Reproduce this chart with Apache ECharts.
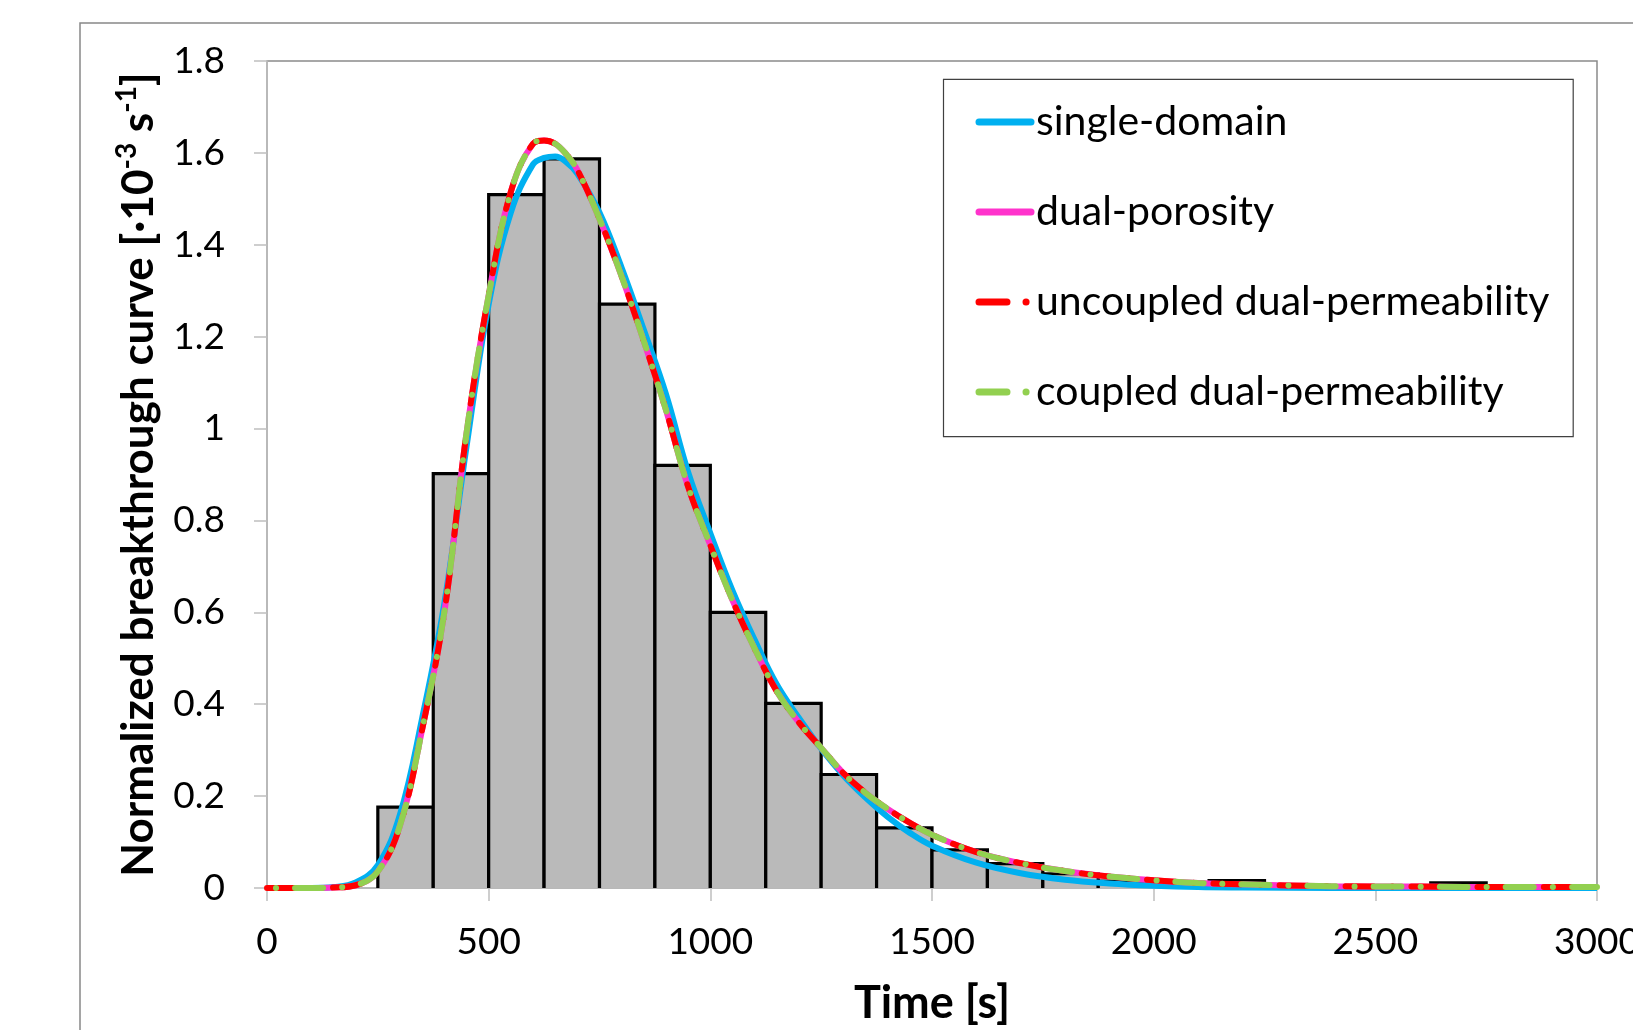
<!DOCTYPE html>
<html><head><meta charset="utf-8">
<script src="https://cdn.jsdelivr.net/npm/echarts@6/dist/echarts.min.js"></script>
<style>html,body{margin:0;padding:0;background:#fff}#c{width:1633px;height:1030px}</style>
</head><body><div id="c"></div>
<script>
// Histogram bins (s) and heights
const binStarts = [250,375,500,625,750,875,1000,1125,1250,1375,1500,1625,1750,1875,2000,2125,2250,2375,2500,2625,2750,2875];
const binWidth = 125;
const binValues = [0.176,0.902,1.509,1.587,1.271,0.920,0.600,0.402,0.247,0.131,0.083,0.053,0.031,0.015,0.010,0.016,0.004,0.002,0.002,0.011,0.002,0.001];

// Curve sample times (s)
const times = [0,100,150,200,250,300,350,400,450,500,550,600,625,650,675,700,750,800,850,900,950,1000,1050,1100,1150,1200,1250,1300,1350,1400,1450,1500,1600,1700,1800,1900,2000,2100,2200,2400,2600,2800,3000];
const singleDomain = [0,0,0.002,0.012,0.05,0.16,0.37,0.62,0.96,1.27,1.47,1.575,1.589,1.592,1.58,1.555,1.47,1.35,1.215,1.075,0.905,0.772,0.647,0.54,0.443,0.37,0.303,0.245,0.197,0.155,0.12,0.092,0.055,0.032,0.018,0.01,0.005,0.002,0.001,0,0,0,0];
const dualPorosity = [0,0,0.001,0.006,0.036,0.136,0.345,0.60,0.99,1.29,1.515,1.62,1.627,1.62,1.597,1.563,1.456,1.331,1.19,1.04,0.873,0.746,0.626,0.521,0.428,0.36,0.305,0.25,0.207,0.172,0.142,0.116,0.078,0.054,0.037,0.025,0.017,0.011,0.008,0.004,0.003,0.002,0.002];
const uncoupledDualPerm = [0,0,0.001,0.006,0.036,0.136,0.345,0.60,0.99,1.29,1.515,1.62,1.627,1.62,1.597,1.563,1.456,1.331,1.19,1.04,0.873,0.746,0.626,0.521,0.428,0.36,0.305,0.25,0.207,0.172,0.142,0.116,0.078,0.054,0.037,0.025,0.017,0.011,0.008,0.004,0.003,0.002,0.002];
const coupledDualPerm = [0,0,0.001,0.006,0.036,0.136,0.345,0.60,0.99,1.29,1.515,1.62,1.627,1.62,1.597,1.563,1.456,1.331,1.19,1.04,0.873,0.746,0.626,0.521,0.428,0.36,0.305,0.25,0.207,0.172,0.142,0.116,0.078,0.054,0.037,0.025,0.017,0.011,0.008,0.004,0.003,0.002,0.002];

const seriesNames = ['single-domain','dual-porosity','uncoupled dual-permeability','coupled dual-permeability'];
const xTicks = {min:0, max:3000, interval:500};
const yTicks = {min:0, max:1.8, interval:0.2};

const FONT = 'Lato';
const pair = arr => times.map((t,i)=>[t, arr[i]]);
const dash = [28,19,0.1,19];
const colors = ['#00B0F0','#FF33CC','#FF0000','#92D050'];
const types = ['solid','solid',dash,dash];

const chart = echarts.init(document.getElementById('c'));
chart.setOption({
  backgroundColor:'#fff',
  animation:false,
  grid:{left:267, top:61, right:36, bottom:142, show:true, borderColor:'#8a8a8a', borderWidth:1.5,
    backgroundColor:'transparent', containLabel:false, outerBoundsMode:'none'},
  xAxis:{type:'value', min:xTicks.min, max:xTicks.max, interval:xTicks.interval,
    name:'Time [s]', nameLocation:'middle', nameGap:93,
    nameTextStyle:{fontFamily:FONT, fontWeight:'bold', fontSize:45, color:'#000'},
    axisLine:{lineStyle:{color:'#bfbfbf', width:1.5}},
    axisTick:{length:13, lineStyle:{color:'#bfbfbf', width:1.5}},
    axisLabel:{fontFamily:FONT, fontSize:37, color:'#000', margin:36, formatter:v=>String(v), hideOverlap:false},
    splitLine:{show:false}},
  yAxis:{type:'value', min:yTicks.min, max:yTicks.max, interval:yTicks.interval,
    name:'{b|Normalized breakthrough curve [·10}{s|-3}{b| s}{s|-1}{b|]}',
    nameLocation:'middle', nameGap:102, nameRotate:90,
    nameTextStyle:{rich:{
      b:{fontFamily:FONT, fontWeight:'bold', fontSize:44, color:'#000', lineHeight:52},
      s:{fontFamily:FONT, fontWeight:'bold', fontSize:28, color:'#000', lineHeight:28, verticalAlign:'top'}}},
    axisLine:{show:true, lineStyle:{color:'#bfbfbf', width:1.5}},
    axisTick:{show:true, length:13, lineStyle:{color:'#bfbfbf', width:1.5}},
    axisLabel:{fontFamily:FONT, fontSize:37, color:'#000', margin:42},
    splitLine:{show:false}},
  legend:{orient:'vertical', left:943.5, top:78.5, padding:[23,0,0,32], itemGap:49,
    itemWidth:52, itemHeight:14,
    itemStyle:{opacity:0},
    data:seriesNames.map((n,i)=>({name:n,
      lineStyle:{color:colors[i], width:7, type:types[i], cap:'round', dashOffset:0, opacity:1}})),
    textStyle:{fontFamily:FONT, fontSize:41, color:'#000', lineHeight:40}},
  graphic:[
    {type:'rect', z:-10, shape:{x:80, y:23, width:1700, height:1100}, style:{fill:'none', stroke:'#888', lineWidth:1.5}},
    {type:'rect', z:10, shape:{x:943.5, y:79.3, width:629.7, height:357.4}, style:{fill:'none', stroke:'#404040', lineWidth:1.2}}
  ],
  series:[
    {type:'custom', name:'histogram', z:1,
      data:binStarts.map((s,i)=>[s, s+binWidth, binValues[i]]),
      encode:{x:[0,1], y:2},
      renderItem:function(params, api){
        const p0 = api.coord([api.value(0), api.value(2)]);
        const p1 = api.coord([api.value(1), 0]);
        return {type:'group', children:[
          {type:'rect', shape:{x:p0[0], y:p0[1], width:p1[0]-p0[0], height:p1[1]-p0[1]}, style:{fill:'#bababa'}},
          {type:'polyline', shape:{points:[[p0[0],p1[1]],[p0[0],p0[1]],[p1[0],p0[1]],[p1[0],p1[1]]]}, style:{stroke:'#000', lineWidth:3.2, fill:null}}
        ]};
      }},
    {type:'line', name:seriesNames[0], data:pair(singleDomain), symbol:'none', smooth:0.4, z:3,
      lineStyle:{color:colors[0], width:6}, itemStyle:{color:colors[0]}},
    {type:'line', name:seriesNames[1], data:pair(dualPorosity), symbol:'none', smooth:0.4, z:4,
      lineStyle:{color:colors[1], width:6}, itemStyle:{color:colors[1]}},
    {type:'line', name:seriesNames[2], data:pair(uncoupledDualPerm), symbol:'none', smooth:0.4, z:5,
      lineStyle:{color:colors[2], width:6, type:dash, cap:'round'}, itemStyle:{color:colors[2]}},
    {type:'line', name:seriesNames[3], data:pair(coupledDualPerm), symbol:'none', smooth:0.4, z:6,
      lineStyle:{color:colors[3], width:6, type:dash, cap:'round', dashOffset:38}, itemStyle:{color:colors[3]}}
  ]
});
</script></body></html>
